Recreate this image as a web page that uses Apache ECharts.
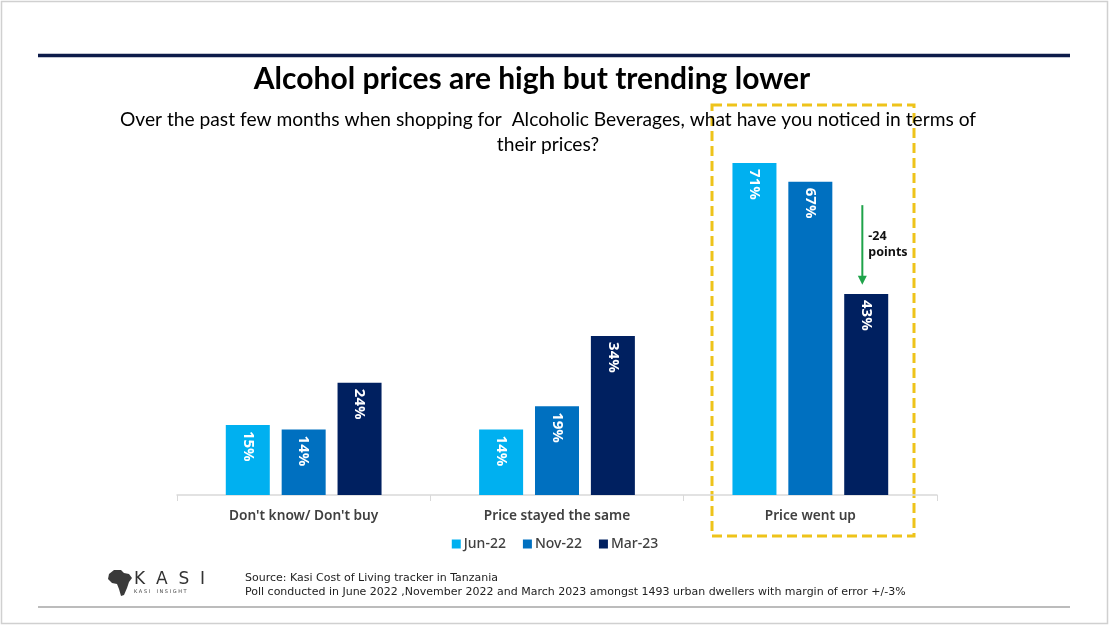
<!DOCTYPE html>
<html>
<head>
<meta charset="utf-8">
<script src="https://cdn.jsdelivr.net/npm/echarts@6/dist/echarts.min.js"></script>
<style>
  html, body { margin: 0; padding: 0; background: #fff; }
  #chart { width: 1110px; height: 626px; }
</style>
</head>
<body>
<div id="chart"></div>
<script>
var categories = ["Don't know/ Don't buy", 'Price stayed the same', 'Price went up'];
var seriesNames = ['Jun-22', 'Nov-22', 'Mar-23'];
var jun22 = [15, 14, 71];
var nov22 = [14, 19, 67];
var mar23 = [24, 34, 43];
var colors = ['#00B0F0', '#0070C0', '#002060'];

var titleText = 'Alcohol prices are high but trending lower';
var subtitleText = 'Over the past few months when shopping for  Alcoholic Beverages, what have you noticed in terms of\ntheir prices?';
var sourceLines = [
    'Source: Kasi Cost of Living tracker in Tanzania',
    'Poll conducted in June 2022 ,November 2022 and March 2023 amongst 1493 urban dwellers with margin of error +/-3%'
];
var changeLabel = '-24\npoints';

var chart = echarts.init(document.getElementById('chart'));

function barSeries(name, data, color) {
    return {
        name: name,
        type: 'bar',
        data: data,
        barWidth: 44,
        barGap: '27%',
        itemStyle: {color: color},
        label: {
            show: true,
            position: 'insideTop',
            rotate: -90,
            align: 'left',
            verticalAlign: 'middle',
            distance: 6,
            formatter: '{c}%',
            color: '#fff',
            fontFamily: 'Noto Sans',
            fontWeight: 'bold',
            fontSize: 15
        }
    };
}

var option = {
    animation: false,
    backgroundColor: '#fff',
    title: [{
        text: titleText,
        left: 527, top: 59, textAlign: 'center',
        textStyle: {fontFamily: 'Lato', fontWeight: 'bold', fontSize: 30, color: '#000'}
    }, {
        text: subtitleText,
        left: 543, top: 102, textAlign: 'center',
        textStyle: {fontFamily: 'Lato', fontWeight: 'normal', fontSize: 19.2, lineHeight: 25, color: '#000'}
    }],
    legend: {
        data: seriesNames,
        left: 'center',
        top: 532,
        icon: 'rect',
        itemWidth: 9,
        itemHeight: 9,
        itemGap: 17,
        textStyle: {fontFamily: 'Noto Sans', fontSize: 14, color: '#404040', fontWeight: 500,
                    padding: [0, 0, 0, -2]}
    },
    grid: {left: 177, right: 173, top: 121, bottom: 131},
    xAxis: {
        type: 'category',
        data: categories,
        axisLine: {lineStyle: {color: '#d9d9d9', width: 1.5}},
        axisTick: {show: true, length: 6, lineStyle: {color: '#d9d9d9'}},
        axisLabel: {
            margin: 14,
            fontFamily: 'Noto Sans', fontWeight: 600, fontSize: 13.7, color: '#404040'
        }
    },
    yAxis: {
        type: 'value', min: 0, max: 80, show: false,
        splitLine: {show: false}
    },
    series: [
        barSeries(seriesNames[0], jun22, colors[0]),
        barSeries(seriesNames[1], nov22, colors[1]),
        barSeries(seriesNames[2], mar23, colors[2])
    ]
};
chart.setOption(option);

// annotations placed from the axis scales
var top62 = chart.convertToPixel({gridIndex: 0}, [2, 62]);
var bot45 = chart.convertToPixel({gridIndex: 0}, [2, 45]);
var ax = top62[0] + 52;

chart.setOption({
    graphic: [
        {type: 'rect', shape: {x: 1.5, y: 1.5, width: 1106, height: 622},
         style: {fill: 'none', stroke: '#d0d0d0', lineWidth: 1.5}, silent: true},
        {type: 'line', shape: {x1: 38, y1: 55.5, x2: 1070, y2: 55.5},
         style: {stroke: '#0D1B4A', lineWidth: 3.5}},
        {type: 'line', shape: {x1: 38, y1: 607, x2: 1070, y2: 607},
         style: {stroke: '#a6a6a6', lineWidth: 1.5}},
        {type: 'rect', shape: {x: 712, y: 105, width: 202, height: 431},
         style: {fill: 'none', stroke: '#EEC31A', lineWidth: 3, lineDash: [10, 5]}},
        {type: 'line', shape: {x1: ax, y1: top62[1], x2: ax, y2: bot45[1] - 6},
         style: {stroke: '#1FA34A', lineWidth: 2}},
        {type: 'polygon', shape: {points: [[ax - 4.5, bot45[1] - 9], [ax + 4.5, bot45[1] - 9], [ax, bot45[1]]]},
         style: {fill: '#1FA34A'}},
        {type: 'text', x: ax + 6, y: top62[1] + 39,
         style: {text: changeLabel, fontFamily: 'Noto Sans', fontWeight: 'bold', fontSize: 12.5,
                 lineHeight: 16, fill: '#111', textVerticalAlign: 'middle'}},
        // logo
        {type: 'polygon', shape: {points: [[109, 574], [114, 570], [121, 570], [124, 573], [129, 574], [132, 578],
                                           [129, 582], [127, 588], [124, 595], [121, 596], [119, 589], [117, 584],
                                           [112, 583], [108, 579]]},
         style: {fill: '#3a3a3a'}},
        {type: 'text', x: 134, y: 580,
         style: {text: 'K  A  S  I', fontFamily: 'DejaVu Sans', fontSize: 17, fill: '#333', textVerticalAlign: 'middle'}},
        {type: 'text', x: 134, y: 592,
         style: {text: 'K A S I    I N S I G H T', fontFamily: 'DejaVu Sans', fontSize: 5, fill: '#444', textVerticalAlign: 'middle'}},
        {type: 'text', x: 245, y: 578,
         style: {text: sourceLines[0], fontFamily: 'DejaVu Sans', fontSize: 11, fill: '#222', textVerticalAlign: 'middle'}},
        {type: 'text', x: 245, y: 592,
         style: {text: sourceLines[1], fontFamily: 'DejaVu Sans', fontSize: 11, fill: '#222', textVerticalAlign: 'middle'}}
    ]
});
</script>
</body>
</html>
